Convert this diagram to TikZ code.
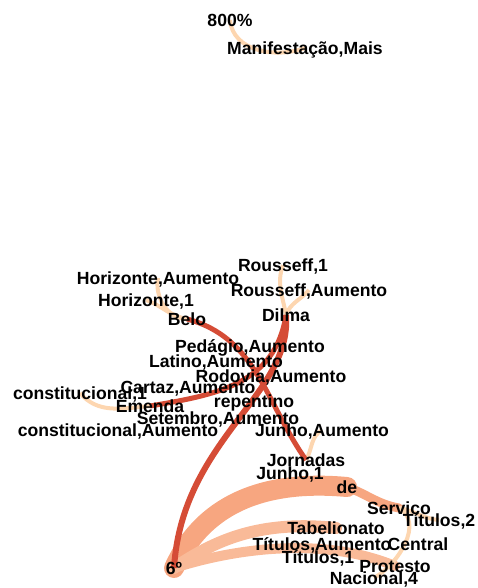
\documentclass[tikz,border=0pt]{standalone}
\usepackage{fontspec}
\setmainfont{Liberation Sans}
\usetikzlibrary{backgrounds}
\definecolor{lite}{RGB}{253,214,176}
\definecolor{peach}{RGB}{247,166,128}
\definecolor{soft}{RGB}{249,186,152}
\definecolor{hot}{RGB}{213,76,54}

\begin{document}
\begin{tikzpicture}[x=1pt,y=1pt,
  word/.style={font=\bfseries\fontsize{17.6}{20}\selectfont,inner sep=0pt,text height=12.5pt,text depth=0pt},
  faint/.style={lite,line width=4pt},
  hotline/.style={hot,line width=5pt},
  band/.style={#1,line cap=round}]
  \useasboundingbox (0,0) rectangle (477,-588);

  \node[word] (pct) at (230,-20) {800\%};
  \node[word] (mani) at (305,-48) {Manifestação,Mais};

  \node[word] (rouone) at (283,-265) {Rousseff,1};
  \node[word] (horaum) at (158,-278) {Horizonte,Aumento};
  \node[word] (rouaum) at (309,-290) {Rousseff,Aumento};
  \node[word] (horone) at (146,-300) {Horizonte,1};
  \node[word] (dilma) at (286,-315) {Dilma};
  \node[word] (belo) at (187,-319) {Belo};
  \node[word] (pedaum) at (250,-346) {Pedágio,Aumento};
  \node[word] (lataum) at (216,-361) {Latino,Aumento};
  \node[word] (rodaum) at (271,-376) {Rodovia,Aumento};
  \node[word] (caraum) at (188,-387) {Cartaz,Aumento};
  \node[word] (conone) at (80,-393) {constitucional,1};
  \node[word] (repent) at (254,-401) {repentino};
  \node[word] (emenda) at (150,-406) {Emenda};
  \node[word] (setaum) at (218,-418) {Setembro,Aumento};
  \node[word] (conaum) at (118,-430) {constitucional,Aumento};
  \node[word] (junaum) at (322,-430) {Junho,Aumento};

  \node[word] (jorn) at (306,-460) {Jornadas};
  \node[word] (junone) at (290,-473) {Junho,1};
  \node[word] (de) at (347,-487) {de};
  \node[word] (serv) at (399,-508) {Servico};
  \node[word] (titdois) at (439,-520) {Títulos,2};
  \node[word] (tabel) at (336,-528) {Tabelionato};
  \node[word] (titaum) at (322,-544) {Títulos,Aumento};
  \node[word] (central) at (418,-544) {Central};
  \node[word] (titone) at (318,-557) {Títulos,1};
  \node[word] (protesto) at (395,-566) {Protesto};
  \node[word] (nac) at (374,-578) {Nacional,4};
  \node[word] (sexto) at (174,-568) {6º};

  \begin{scope}[on background layer]
    \draw[faint] (pct.center) to[out=-85,in=200] (mani.center);
    \draw[faint] (rouone.center) to[out=-110,in=100] (dilma.center);
    \draw[faint] (rouaum.center) to[out=-130,in=70] (dilma.center);
    \draw[faint] (horaum.center) to[out=-100,in=180] (belo.center);
    \draw[faint] (horone.center) to[out=-20,in=170] (belo.center);
    \draw[faint] (conone.center) to[out=-50,in=185] (emenda.center);
    \draw[faint] (junaum.center) to[out=-150,in=60] (jorn.center);

    \draw[band=peach,line width=20pt] (sexto.center) .. controls (205,-500) and (270,-480) .. (de.center);
    \draw[band=soft,line width=12pt] (sexto.center) .. controls (215,-540) and (260,-520) .. (tabel.center);
    \draw[band=soft,line width=10pt] (sexto.center) .. controls (230,-550) and (320,-535) .. (protesto.center);
    \draw[band=peach,line width=9pt] (de.center) to[out=-20,in=170] (serv.center);
    \draw[faint] (serv.center) to[out=-10,in=175] (titdois.center);
    \draw[faint] (serv.center) to[out=-30,in=30] (nac.center);

    \draw[hotline,line width=6pt] (dilma.center) .. controls (292,-395) and (182,-440) .. (sexto.center);
    \draw[hotline] (belo.center) to[out=-15,in=125] (jorn.center);
    \draw[hotline] (emenda.center) .. controls (215,-395) and (275,-385) .. (dilma.center);
  \end{scope}
\end{tikzpicture}
\end{document}
